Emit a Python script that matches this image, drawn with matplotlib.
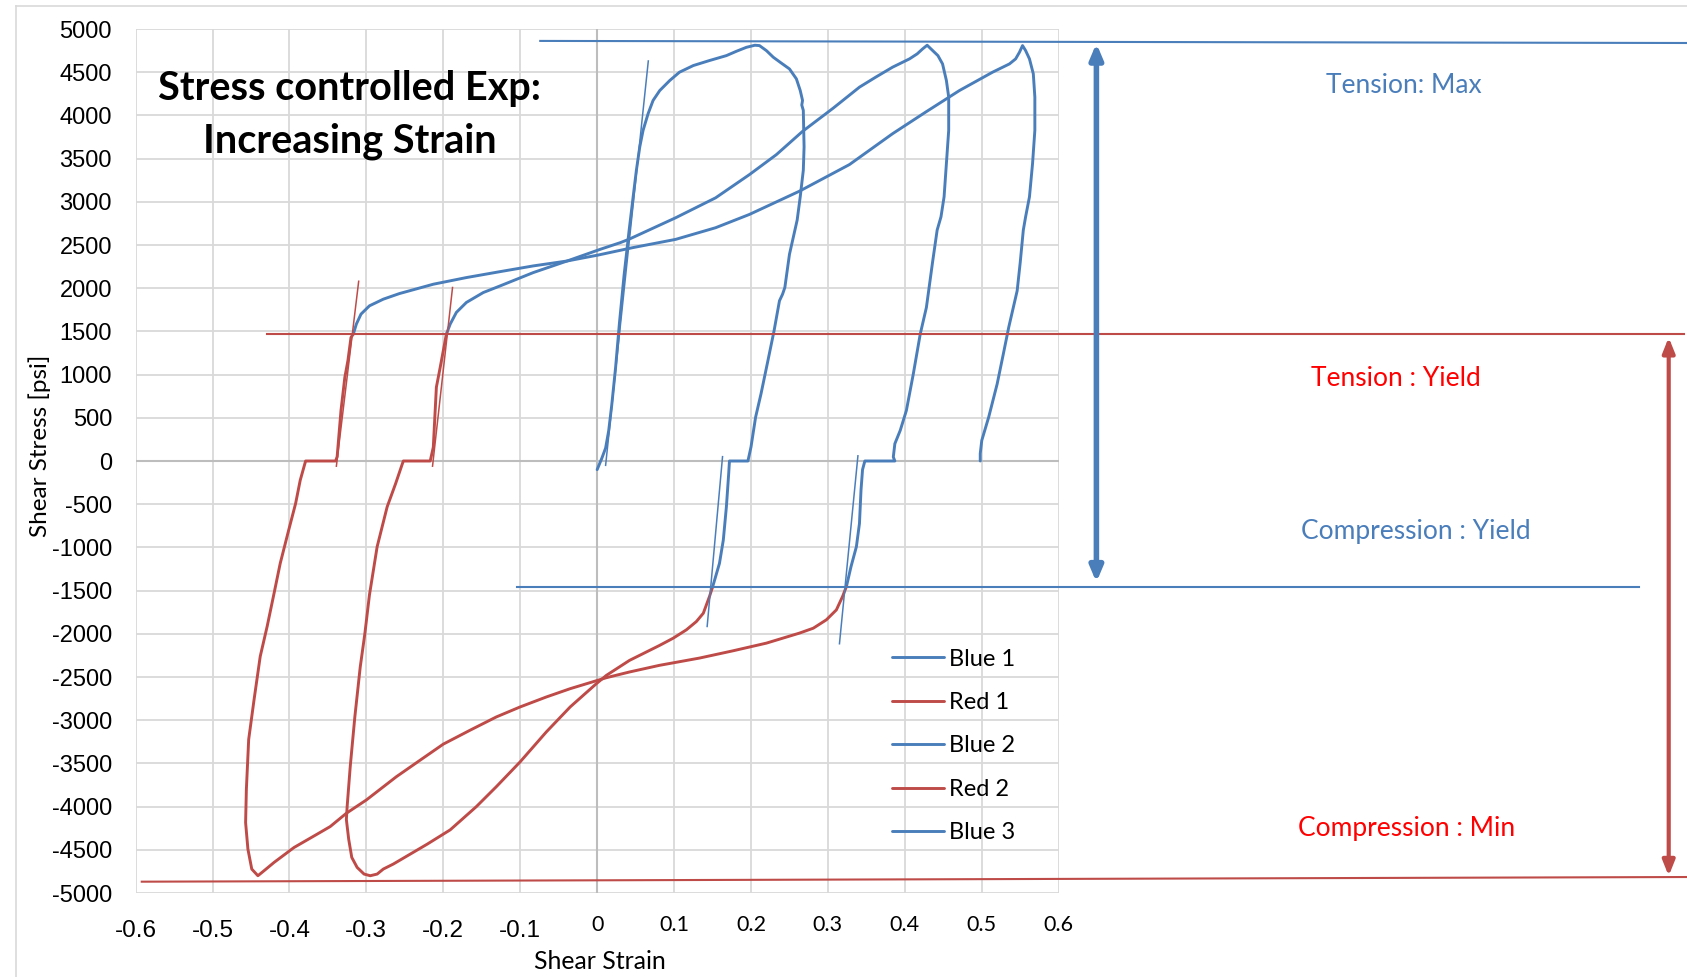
import matplotlib
matplotlib.use('Agg')
import matplotlib.pyplot as plt
from matplotlib.patches import FancyArrowPatch, ArrowStyle
from matplotlib.lines import Line2D

W, H, DPI = 1687, 977, 100
BLUE = '#4a7ebb'
RED = '#be4b48'
TXT_BLUE = '#4a7ebb'
TXT_RED = '#ff0000'

# ---------------- data ----------------
blue1_x = [0.000, 0.006, 0.011, 0.015, 0.019, 0.024, 0.029, 0.035, 0.0416, 0.0468, 0.051, 0.0554,
           0.0597, 0.0662, 0.0727, 0.0814, 0.0944, 0.107, 0.125, 0.146, 0.168, 0.181, 0.194,
           0.205, 0.211, 0.220, 0.229, 0.239, 0.250, 0.259, 0.264, 0.267, 0.266, 0.268, 0.269,
           0.268, 0.264, 0.260, 0.250, 0.244, 0.241, 0.237, 0.230, 0.222, 0.213, 0.206,
           0.200, 0.196, 0.172, 0.171, 0.168, 0.164, 0.159, 0.154, 0.150]
blue1_y = [-100, 30, 150, 350, 650, 1085, 1600, 2150, 2673, 3058, 3365, 3635,
           3827, 4019, 4173, 4288, 4404, 4500, 4577, 4635, 4692, 4742, 4788,
           4812, 4808, 4750, 4673, 4608, 4538, 4423, 4288, 4173, 4120, 4058, 3635,
           3365, 3058, 2788, 2392, 2008, 1930, 1854, 1508, 1162, 777, 508,
           162, 0, 0, -146, -531, -915, -1185, -1338, -1460]

red1_x = [0.150, 0.146, 0.138, 0.129, 0.116, 0.099, 0.081, 0.042, 0.012, -0.001, -0.035,
          -0.066, -0.100, -0.131, -0.157, -0.191, -0.221, -0.265, -0.278, -0.286,
          -0.295, -0.303, -0.312, -0.319, -0.323, -0.326, -0.325, -0.321, -0.315, -0.308,
          -0.302, -0.296, -0.286, -0.273, -0.262, -0.252, -0.217, -0.213, -0.209, -0.204,
          -0.200, -0.196]
red1_y = [-1460, -1569, -1762, -1858, -1954, -2050, -2135, -2308, -2481, -2577, -2846,
          -3135, -3481, -3769, -4000, -4269, -4435, -4665, -4723, -4781,
          -4800, -4781, -4704, -4588, -4377, -4150, -4000, -3538, -2962, -2385,
          -2000, -1550, -992, -531, -262, 0, 0, 160, 854, 1085,
          1277, 1469]

blue2_x = [-0.196, -0.191, -0.183, -0.170, -0.148, -0.126, -0.083, -0.039, 0.004, 0.030, 0.041,
           0.102, 0.154, 0.198, 0.233, 0.267, 0.307, 0.341, 0.362, 0.384, 0.406, 0.416, 0.423,
           0.429, 0.434, 0.443, 0.449, 0.454, 0.457, 0.457, 0.454, 0.451, 0.447, 0.442, 0.436,
           0.428, 0.420, 0.411, 0.402, 0.394, 0.387, 0.385, 0.387, 0.348, 0.345, 0.343, 0.341,
           0.337, 0.330, 0.326, 0.324]
blue2_y = [1469, 1585, 1720, 1835, 1950, 2027, 2181, 2315, 2450, 2527, 2565,
           2815, 3046, 3315, 3546, 3815, 4085, 4327, 4442, 4558, 4654, 4712, 4769,
           4812, 4769, 4692, 4596, 4404, 4212, 3827, 3442, 3058, 2827, 2673, 2300,
           1777, 1469, 1008, 585, 354, 200, 46, 0, 0, -100, -338, -723,
           -992, -1223, -1377, -1454]

red2_x = [0.324, 0.319, 0.311, 0.298, 0.281, 0.263, 0.220, 0.177, 0.133, 0.081, 0.042, 0.012,
          -0.035, -0.066, -0.100, -0.131, -0.165, -0.200, -0.230, -0.261, -0.300, -0.326,
          -0.347, -0.364, -0.394, -0.420, -0.433, -0.441, -0.449, -0.454, -0.457, -0.456,
          -0.453, -0.446, -0.438, -0.429, -0.420, -0.412, -0.401, -0.392, -0.386, -0.379,
          -0.340, -0.338, -0.333, -0.328, -0.324, -0.320, -0.317]
red2_y = [-1454, -1569, -1723, -1838, -1935, -1992, -2108, -2196, -2281, -2365, -2442, -2508,
          -2635, -2731, -2846, -2962, -3115, -3277, -3462, -3654, -3923, -4077,
          -4231, -4319, -4473, -4646, -4742, -4800, -4723, -4492, -4185, -3800,
          -3223, -2762, -2262, -1915, -1531, -1185, -800, -492, -223, 0,
          0, 50, 585, 969, 1162, 1430, 1469]

blue3_x = [-0.317, -0.313, -0.307, -0.296, -0.278, -0.257, -0.213, -0.170, -0.126, -0.083, -0.039,
           0.002, 0.046, 0.102, 0.154, 0.198, 0.263, 0.328, 0.384, 0.427, 0.471, 0.514, 0.536,
           0.544, 0.549, 0.553, 0.557, 0.562, 0.567, 0.569, 0.569, 0.566, 0.562, 0.557, 0.554,
           0.550, 0.546, 0.535, 0.528, 0.520, 0.509, 0.500, 0.498, 0.498]
blue3_y = [1469, 1585, 1700, 1796, 1873, 1938, 2046, 2123, 2192, 2258, 2315,
           2385, 2469, 2565, 2700, 2854, 3123, 3431, 3788, 4038, 4288, 4500, 4596,
           4654, 4731, 4808, 4750, 4654, 4481, 4212, 3827, 3442, 3058, 2827, 2673,
           2300, 1970, 1546, 1238, 892, 508, 238, 85, 0]

series_names = ['Blue 1', 'Red 1', 'Blue 2', 'Red 2', 'Blue 3']

# thin elastic tangent lines
tangent_blue_x = [(0.011, 0.0665), (0.163, 0.143), (0.339, 0.315)]
tangent_blue_y = [(-50, 4630), (50, -1915), (60, -2115)]
tangent_red_x = [(-0.310, -0.339), (-0.188, -0.214)]
tangent_red_y = [(2080, -60), (2008, -60)]

# reference levels drawn across the figure
ref_tension_max_x, ref_tension_max_y = [-0.074, 1.417], [4862, 4838]
ref_tension_yield_x, ref_tension_yield_y = [-0.429, 1.413], [1472, 1472]
ref_comp_yield_x, ref_comp_yield_y = [-0.1045, 1.354], [-1454, -1454]
ref_comp_min_x, ref_comp_min_y = [-0.592, 1.417], [-4869, -4815]
blue_arrow_x, blue_arrow_y = 0.649, (-1404, 4834)
red_arrow_x, red_arrow_y = 1.393, (-4803, 1431)

x_ticks = [-0.6, -0.5, -0.4, -0.3, -0.2, -0.1, 0, 0.1, 0.2, 0.3, 0.4, 0.5, 0.6]
x_tick_labels = ['-0.6', '-0.5', '-0.4', '-0.3', '-0.2', '-0.1', '0', '0.1', '0.2', '0.3', '0.4', '0.5', '0.6']
y_ticks = list(range(-5000, 5001, 500))
y_tick_labels = [str(v) for v in y_ticks]

# ---------------- figure ----------------
fig = plt.figure(figsize=(W / DPI, H / DPI), dpi=DPI)


def fx(px):
    return px / W


def fy(py):
    return 1 - py / H


# outer frame (light grey)
fig.add_artist(Line2D([fx(16), 1], [fy(6), fy(6)], color='#d9d9d9', lw=1.2))
fig.add_artist(Line2D([fx(16), fx(16)], [0, fy(6)], color='#d9d9d9', lw=1.2))

ax = fig.add_axes([fx(135.6), fy(893), fx(1058.7) - fx(135.6), fy(29) - fy(893)])
ax.set_xlim(-0.6, 0.6)
ax.set_ylim(-5000, 5000)
ax.set_xticks(x_ticks)
ax.set_yticks(y_ticks)
ax.set_yticklabels(y_tick_labels, family='Liberation Sans', fontsize=17)
ax.tick_params(length=0, labelbottom=False)
ax.tick_params(axis='y', pad=17)
for s in ax.spines.values():
    s.set_visible(False)
ax.grid(True, color='#d9d9d9', lw=1.3)
ax.set_axisbelow(True)
ax.axhline(0, color='#bdbdbd', lw=1.5, zorder=1)
ax.axvline(0, color='#bdbdbd', lw=1.5, zorder=1)

for v, lab in zip(x_ticks, x_tick_labels):
    if v < 0:
        fam, size, off = 'Liberation Sans', 17.5, -38
    else:
        fam, size, off = 'Lato', 15.5, -32
    ax.annotate(lab, xy=(v, 0), xycoords=('data', 'axes fraction'), xytext=(0, off),
                textcoords='offset pixels', ha='center', va='center', family=fam, fontsize=size)

series = [(blue1_x, blue1_y, BLUE), (red1_x, red1_y, RED), (blue2_x, blue2_y, BLUE),
          (red2_x, red2_y, RED), (blue3_x, blue3_y, BLUE)]
handles = []
for (xs, ys, c), name in zip(series, series_names):
    h, = ax.plot(xs, ys, color=c, lw=2.1, label=name, zorder=3,
                 solid_joinstyle='round', solid_capstyle='round')
    handles.append(h)

for xs, ys in zip(tangent_blue_x, tangent_blue_y):
    ax.plot(xs, ys, color=BLUE, lw=1.1, zorder=3)
for xs, ys in zip(tangent_red_x, tangent_red_y):
    ax.plot(xs, ys, color=RED, lw=1.1, zorder=3)

for xs, ys, c in [(ref_tension_max_x, ref_tension_max_y, BLUE),
                  (ref_tension_yield_x, ref_tension_yield_y, RED),
                  (ref_comp_yield_x, ref_comp_yield_y, BLUE),
                  (ref_comp_min_x, ref_comp_min_y, RED)]:
    ax.plot(xs, ys, color=c, lw=1.5, zorder=4, clip_on=False)

for xa, ya, c, lw, hl, hw in [(blue_arrow_x, blue_arrow_y, BLUE, 4.0, 9, 3.8),
                              (red_arrow_x, red_arrow_y, RED, 3.0, 9, 3.6)]:
    arr = FancyArrowPatch((xa, ya[0]), (xa, ya[1]),
                          arrowstyle=ArrowStyle('<|-|>', head_length=hl, head_width=hw),
                          mutation_scale=1, color=c, lw=lw, shrinkA=0, shrinkB=0,
                          transform=ax.transData, clip_on=False, zorder=5)
    ax.add_patch(arr)

ax.legend(handles=handles, labels=series_names, loc='upper left',
          bbox_to_anchor=(fx(891.7), fy(648.5)), bbox_transform=fig.transFigure,
          frameon=False, borderpad=0, borderaxespad=0, handlelength=2.23,
          handletextpad=0.2, labelspacing=0.95, prop={'family': 'Lato', 'size': 17})

# texts
fig.text(fx(349.5), fy(100), 'Stress controlled Exp:', ha='center', va='baseline',
         family='Lato', weight='bold', fontsize=28.5)
fig.text(fx(349.5), fy(152.7), 'Increasing Strain', ha='center', va='baseline',
         family='Lato', weight='bold', fontsize=28.5)
fig.text(fx(40), fy(446), 'Shear Stress [psi]', rotation=90, ha='center', va='center',
         family='Lato', fontsize=17.5)
fig.text(fx(599.5), fy(969), 'Shear Strain', ha='center', va='baseline',
         family='Lato', fontsize=17.9)
fig.text(fx(1404), fy(92.7), 'Tension: Max', ha='center', va='baseline',
         family='Lato', fontsize=19, color=TXT_BLUE)
fig.text(fx(1396), fy(386), 'Tension : Yield', ha='center', va='baseline',
         family='Lato', fontsize=19, color=TXT_RED)
fig.text(fx(1415.5), fy(539), 'Compression : Yield', ha='center', va='baseline',
         family='Lato', fontsize=19, color=TXT_BLUE)
fig.text(fx(1407), fy(836), 'Compression : Min', ha='center', va='baseline',
         family='Lato', fontsize=19, color=TXT_RED)

fig.savefig('out.png', dpi=DPI)
